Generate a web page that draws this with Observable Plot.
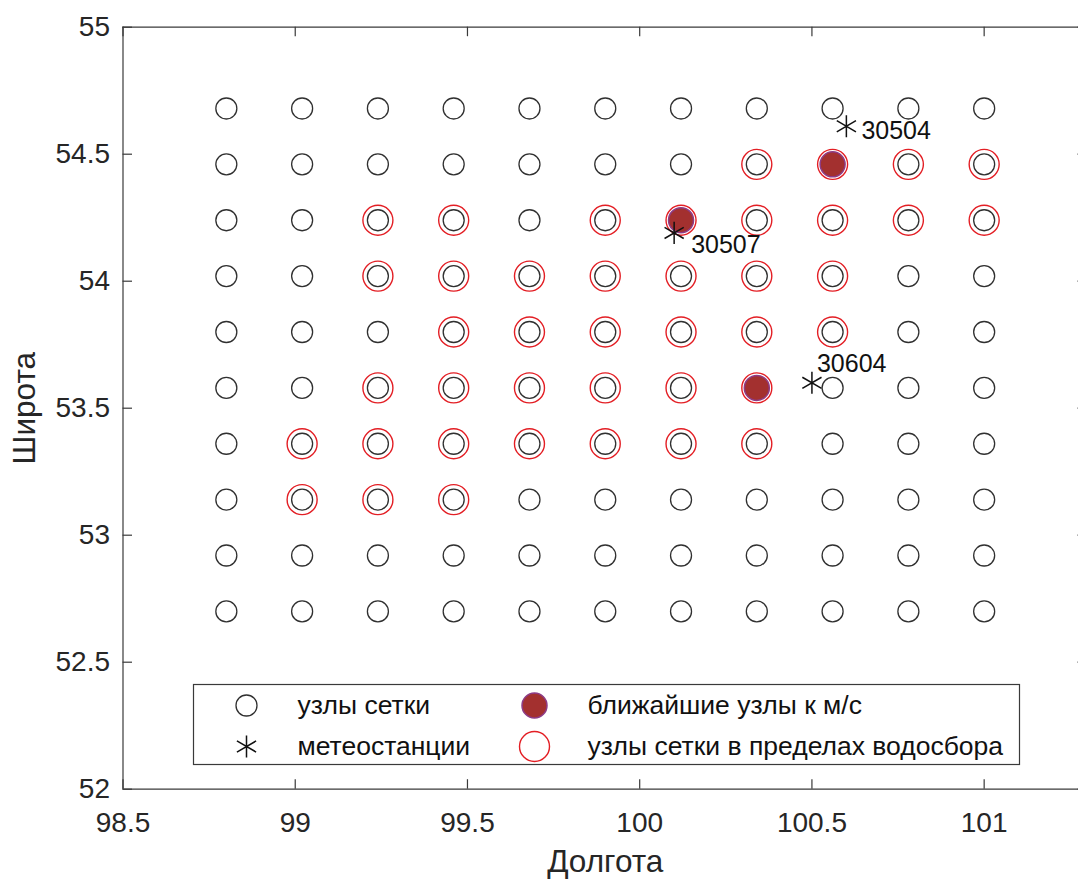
<!DOCTYPE html>
<html>
<head>
<meta charset="utf-8">
<script src="https://cdn.jsdelivr.net/npm/d3@7"></script>
<script src="https://cdn.jsdelivr.net/npm/@observablehq/plot@0.6"></script>
<style>
  html, body { margin: 0; padding: 0; background: #fff; overflow: hidden; }
</style>
</head>
<body>
<div id="chart"></div>
<script>
// Reanalysis grid nodes (longitudes of the columns, latitudes of the rows)
const gridLon = [98.80, 99.02, 99.24, 99.46, 99.68, 99.90, 100.12, 100.34, 100.56, 100.78, 101.00];
const gridLat = [54.68, 54.46, 54.24, 54.02, 53.80, 53.58, 53.36, 53.14, 52.92, 52.70];

// Grid nodes inside the catchment: one list of longitudes per latitude row
const basinLat = [54.46, 54.24, 54.02, 53.80, 53.58, 53.36, 53.14];
const basinLonByRow = [
  [100.34, 100.56, 100.78, 101.00],
  [99.24, 99.46, 99.90, 100.12, 100.34, 100.56, 100.78, 101.00],
  [99.24, 99.46, 99.68, 99.90, 100.12, 100.34, 100.56],
  [99.46, 99.68, 99.90, 100.12, 100.34, 100.56],
  [99.24, 99.46, 99.68, 99.90, 100.12, 100.34],
  [99.02, 99.24, 99.46, 99.68, 99.90, 100.12, 100.34],
  [99.02, 99.24, 99.46]
];

// Grid nodes nearest to the weather stations
const nearestLon = [100.56, 100.12, 100.34];
const nearestLat = [54.46, 54.24, 53.58];

// Weather stations
const stationId  = ["30504", "30507", "30604"];
const stationLon = [100.60, 100.10, 100.50];
const stationLat = [54.61, 54.19, 53.60];

// Axes
const xTicks = [98.5, 99, 99.5, 100, 100.5, 101];
const yTicks = [52, 52.5, 53, 53.5, 54, 54.5, 55];
const xDomain = [98.5, 101.3];
const yDomain = [52, 55];
const xTitle = "Долгота";
const yTitle = "Широта";

// Legend entries
const legendLabels = ["узлы сетки", "метеостанции", "ближайшие узлы к м/с", "узлы сетки в пределах водосбора"];

// ---- tables for the marks ----
const grid = d3.cross(gridLat, gridLon, (lat, lon) => ({lon, lat}));
const basin = basinLat.flatMap((lat, i) => basinLonByRow[i].map(lon => ({lon, lat})));
const nearest = nearestLon.map((lon, i) => ({lon, lat: nearestLat[i]}));
const stations = stationId.map((id, i) => ({id, lon: stationLon[i], lat: stationLat[i]}));

// ---- layout (pixels) ----
const W = 1078, H = 879;
const frameL = 122.5, frameT = 26.7, frameR = 1087, frameB = 788.7;
const plotW = frameR - frameL, plotH = frameB - frameT;
const tickLen = 9.5;

const font = "'Liberation Sans', Arial, Helvetica, sans-serif";
const axisColor = "#3a3a3a";
const nodeColor = "#303030";
const basinColor = "#e31e24";
const nearFill = "#a3302f";
const nearEdge = "#8d3b86";
const starR = 10.5, starWidth = 1.5;

// label offsets next to each station marker
const stationLabelOffset = {
  "30504": [15, 5],
  "30507": [17, 12],
  "30604": [5, -19]
};

// legend geometry
const legendBox = {x1: 193, y1: 684, x2: 1019, y2: 764};
const legendRows = [705, 746];
const legendSymX = [246, 534];
const legendTextX = [297, 587];

const at = (px, py) => ({frameAnchor: "top-left", dx: px - frameL, dy: py - frameT});
const legendText = (label, px, py) =>
  Plot.text([label], {...at(px, py), text: d => d, textAnchor: "start", lineAnchor: "middle", fontSize: 26.5, fill: "#111"});

const legendMarks = [
  Plot.frame({
    fill: "white", stroke: axisColor, strokeWidth: 1.2,
    insetLeft: legendBox.x1 - frameL, insetTop: legendBox.y1 - frameT,
    insetRight: frameR - legendBox.x2, insetBottom: frameB - legendBox.y2
  }),
  Plot.dot([0], {...at(legendSymX[0], legendRows[0]), r: 10.5, stroke: nodeColor, strokeWidth: 1.3}),
  Plot.dot([0], {...at(legendSymX[0], legendRows[1]), symbol: "asterisk", r: starR, stroke: "#111", strokeWidth: starWidth}),
  Plot.dot([0], {...at(legendSymX[1], legendRows[0]), r: 12.5, fill: nearFill, stroke: nearEdge, strokeWidth: 1.5}),
  Plot.dot([0], {...at(legendSymX[1], legendRows[1]), r: 15, stroke: basinColor, strokeWidth: 1.4}),
  legendText(legendLabels[0], legendTextX[0], legendRows[0]),
  legendText(legendLabels[1], legendTextX[0], legendRows[1]),
  legendText(legendLabels[2], legendTextX[1], legendRows[0]),
  legendText(legendLabels[3], legendTextX[1], legendRows[1])
];

const stationLabelMarks = stations.map(s =>
  Plot.text([s], {
    x: "lon", y: "lat", text: "id",
    dx: stationLabelOffset[s.id][0], dy: stationLabelOffset[s.id][1],
    textAnchor: "start", lineAnchor: "middle", fontSize: 25, fill: "#111"
  })
);

const chart = Plot.plot({
  width: W,
  height: H,
  marginLeft: frameL,
  marginTop: frameT,
  marginRight: W - frameR,
  marginBottom: H - frameB,
  x: {domain: xDomain},
  y: {domain: yDomain},
  style: {fontFamily: font, color: "#262626", background: "white", overflow: "hidden"},
  marks: [
    // axis box
    Plot.ruleY([yDomain[0], yDomain[1]], {stroke: axisColor, strokeWidth: 1.2}),
    Plot.ruleX([xDomain[0], xDomain[1]], {stroke: axisColor, strokeWidth: 1.2}),
    // inward ticks on all four sides
    Plot.ruleX(xTicks, {stroke: axisColor, strokeWidth: 1.2, insetTop: plotH - tickLen}),
    Plot.ruleX(xTicks, {stroke: axisColor, strokeWidth: 1.2, insetBottom: plotH - tickLen}),
    Plot.ruleY(yTicks, {stroke: axisColor, strokeWidth: 1.2, insetRight: plotW - tickLen}),
    Plot.ruleY(yTicks, {stroke: axisColor, strokeWidth: 1.2, insetLeft: plotW - tickLen}),
    // tick labels
    Plot.axisX(xTicks, {anchor: "bottom", tickSize: 0, tickPadding: 23, tickFormat: d => String(d), fontSize: 28, label: null}),
    Plot.axisY(yTicks, {anchor: "left", tickSize: 0, tickPadding: 13, tickFormat: d => String(d), fontSize: 28, label: null}),
    // axis titles
    Plot.text([xTitle], {text: d => d, frameAnchor: "bottom", dy: 83, textAnchor: "middle", lineAnchor: "bottom", fontSize: 31.5, fill: "#262626"}),
    Plot.text([yTitle], {text: d => d, frameAnchor: "left", dx: 34 - frameL, rotate: -90, textAnchor: "middle", lineAnchor: "bottom", fontSize: 31.5, fill: "#262626"}),
    // grid nodes
    Plot.dot(grid, {x: "lon", y: "lat", r: 10.5, stroke: nodeColor, strokeWidth: 1.3}),
    // nodes within the catchment
    Plot.dot(basin, {x: "lon", y: "lat", r: 15, stroke: basinColor, strokeWidth: 1.4}),
    // nodes nearest to the stations
    Plot.dot(nearest, {x: "lon", y: "lat", r: 12.5, fill: nearFill, stroke: nearEdge, strokeWidth: 1.5}),
    // weather stations
    Plot.dot(stations, {x: "lon", y: "lat", symbol: "asterisk", r: starR, stroke: "#111", strokeWidth: starWidth}),
    ...stationLabelMarks,
    ...legendMarks
  ]
});

document.getElementById("chart").appendChild(chart);
</script>
</body>
</html>
